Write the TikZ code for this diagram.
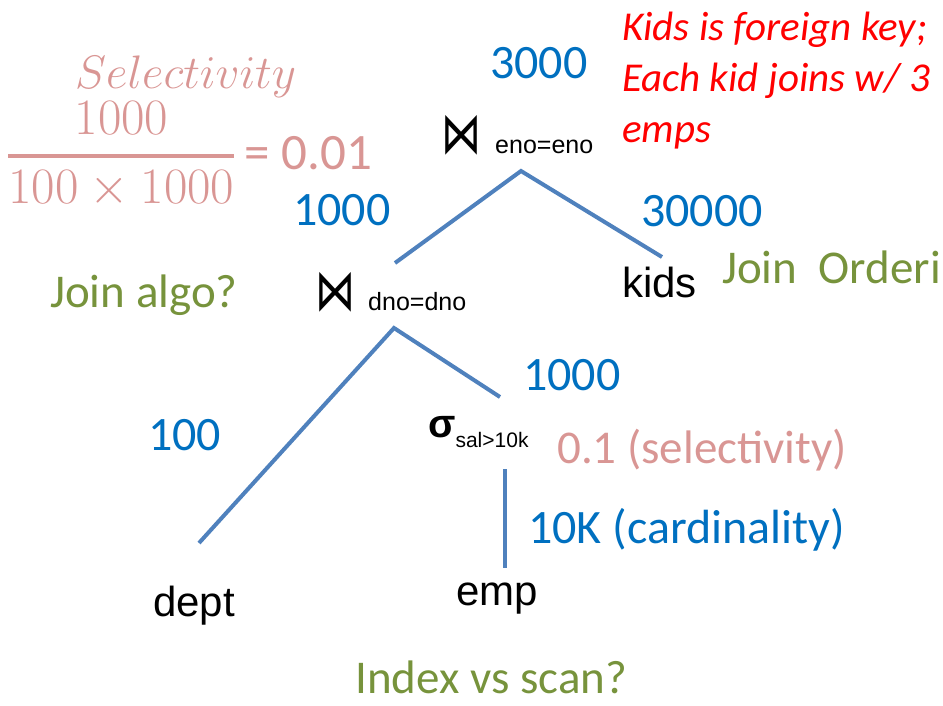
\RequirePackage{fix-cm}
\documentclass[tikz,border=0pt]{standalone}
\usepackage{amsmath}
\usepackage[no-math]{fontspec}
\setmainfont{Carlito}
\newfontfamily\arialfont{Liberation Sans}
\newfontfamily\joinfont{DejaVu Sans}
\usepackage{tikz}
\usetikzlibrary{positioning}

\definecolor{numblue}{HTML}{0070C0}
\definecolor{edgeblue}{HTML}{4F81BD}
\definecolor{selpink}{HTML}{D99694}
\definecolor{qgreen}{HTML}{77933C}

\newcommand{\joinsym}{\scalebox{1}[1.45]{\joinfont\fontsize{40}{48}\selectfont ⋈}}

\begin{document}
\begin{tikzpicture}[x=1pt, y=-1pt, inner sep=0pt]
	\tikzstyle{card}=[text=numblue, anchor=base west, font=\fontsize{48}{58}\selectfont]
	\tikzstyle{rel}=[text=black, anchor=base west, font=\arialfont\fontsize{42}{50}\selectfont]
	\tikzstyle{op}=[text=black, anchor=base west, font=\arialfont\fontsize{25}{30}\selectfont]
	\tikzstyle{question}=[text=qgreen, anchor=base west, font=\fontsize{47}{56}\selectfont]
	\tikzstyle{note}=[text=selpink, anchor=base west, font=\fontsize{47}{56}\selectfont]
	\tikzstyle{edge}=[draw=edgeblue, line width=4pt]
	\useasboundingbox (0,0) rectangle (943,705);

	% selectivity of the join
	\node[note]                                 (sel)  at (75,88)  {$Selectivity$};
	\node[note, font=\fontsize{51}{61}\selectfont] (frac) at (7,169) {$\genfrac{}{}{4pt}{0}{1000}{100\times 1000}$\hspace{9pt}= 0.01};
	\node[anchor=base west, text=red, font=\itshape\fontsize{41}{51}\selectfont, align=left]
	                                            (fk)   at (622,142) {Kids is foreign key;\\Each kid joins w/ 3\\emps};

	% operators and relations
	\node[op]  (J1)   at (441,153) {\joinsym\hspace{14pt}eno=eno};
	\node[op]  (J2)   at (315,310) {\joinsym\hspace{13pt}dno=dno};
	\node[op]  (S)    at (428,437) {{\bfseries\fontsize{40}{48}\selectfont σ}\raisebox{-10pt}{\fontsize{21}{25}\selectfont sal>10k}};
	\node[rel] (kids) at (622,297) {kids};
	\node[rel] (dept) at (153,616) {dept};
	\node[rel] (emp)  at (456,605) {emp};

	% tree edges
	\coordinate (J1a) at (521,171);
	\coordinate (J1l) at (395,263);
	\coordinate (J1r) at (662,257);
	\coordinate (J2a) at (394,328);
	\coordinate (J2l) at (199,543);
	\coordinate (J2r) at (500,397);
	\coordinate (Sa)  at (505,469);
	\coordinate (Sb)  at (505,568);
	\draw[edge] (J1l) -- (J1a) -- (J1r);
	\draw[edge] (J2l) -- (J2a) -- (J2r);
	\draw[edge] (Sa) -- (Sb);

	% cardinalities
	\node[card] (c3000)  at (490,78)  {3000};
	\node[card] (c1000a) at (293,225) {1000};
	\node[card] (c30000) at (641,226) {30000};
	\node[card] (c1000b) at (523,390) {1000};
	\node[card] (c100)   at (148,450) {100};
	\node[card] (c10k)   at (528,543) {10K (cardinality)};
	\node[note] (s01)    at (557,463) {0.1 (selectivity)};

	% questions
	\node[question] (qalgo)  at (50,307)  {Join algo?};
	\node[question] (qorder) at (722,283) {Join~~Orderi};
	\node[question] (qscan)  at (355,693) {Index vs scan?};
\end{tikzpicture}
\end{document}
